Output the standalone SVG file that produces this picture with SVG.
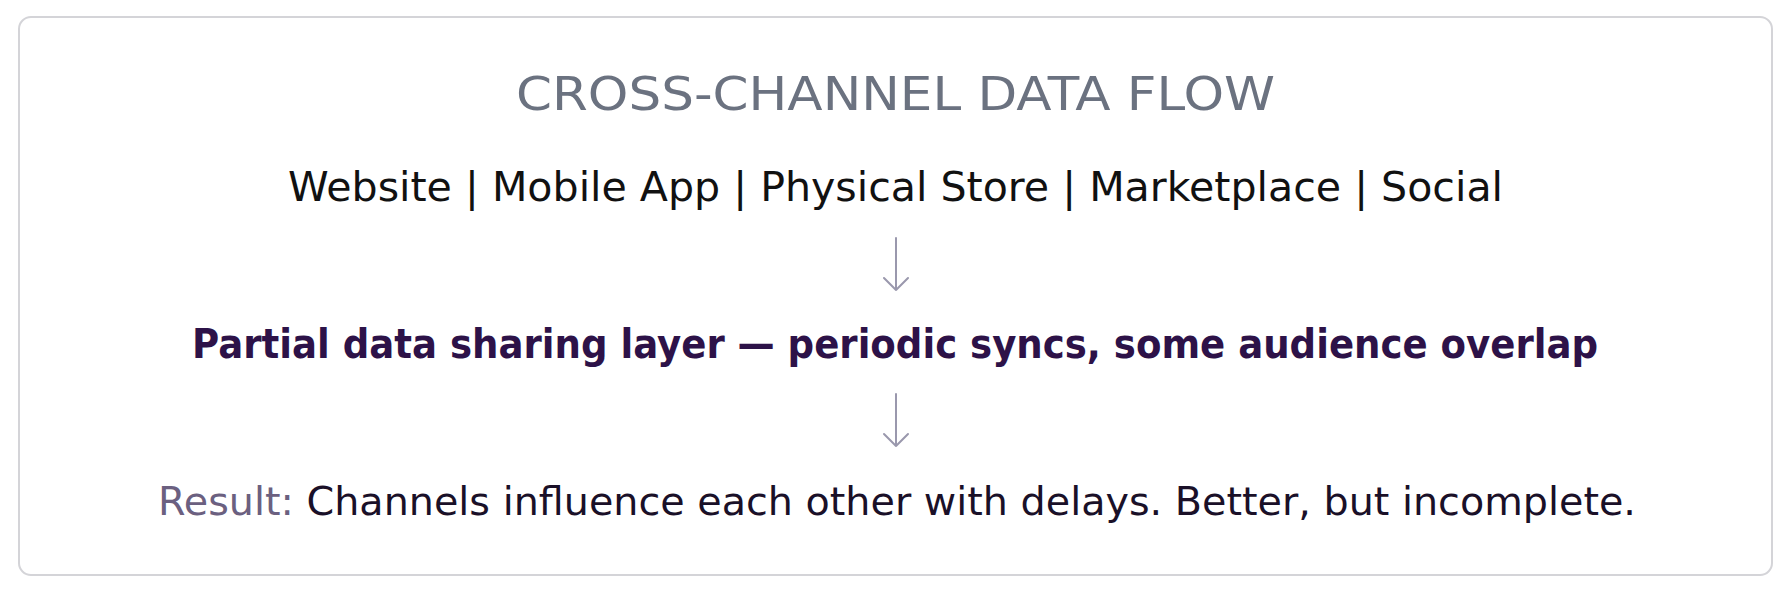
<svg xmlns="http://www.w3.org/2000/svg" width="1792" height="592" viewBox="0 0 1792 592">
  <defs>
    <style>
      .t { font-family: "DejaVu Sans", "Liberation Sans", sans-serif; }
      .title { font-size: 47px; fill: #6b7280; }
      .channels { font-size: 41px; fill: #111111; }
      .layer { font-size: 40px; font-weight: bold; fill: #2d1248; }
      .result { font-size: 39px; fill: #1a1028; }
      .label { fill: #6b6080; }
      .arrow { stroke: #9a98ad; stroke-width: 2; fill: none; stroke-linecap: round; stroke-linejoin: round; }
    </style>
  </defs>
  <rect width="1792" height="592" fill="#ffffff"/>
  <g id="frame">
    <rect x="19" y="17" width="1753" height="558" rx="12" ry="12" fill="#ffffff" stroke="#d4d4d8" stroke-width="2"/>
  </g>
  <g id="title">
    <text class="t title" x="516" y="110" textLength="759" lengthAdjust="spacingAndGlyphs">CROSS-CHANNEL DATA FLOW</text>
  </g>
  <g id="channels">
    <text class="t channels" x="288" y="201" textLength="1215" lengthAdjust="spacingAndGlyphs">Website | Mobile App | Physical Store | Marketplace | Social</text>
  </g>
  <g id="sharing-layer">
    <text class="t layer" x="192" y="358" textLength="1406" lengthAdjust="spacingAndGlyphs">Partial data sharing layer — periodic syncs, some audience overlap</text>
  </g>
  <g id="result">
    <text class="t result" x="158" y="515" textLength="1478" lengthAdjust="spacingAndGlyphs"><tspan class="label">Result:</tspan> Channels influence each other with delays. Better, but incomplete.</text>
  </g>
  <g id="connectors">
    <path class="arrow" d="M896 238 V290 M884 278 L896 290 L908 278"/>
    <path class="arrow" d="M896 394 V446 M884 434 L896 446 L908 434"/>
  </g>
</svg>
